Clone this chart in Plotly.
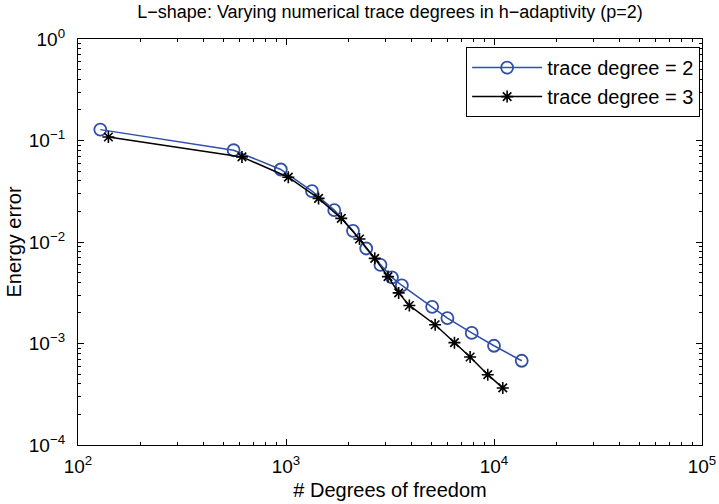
import plotly.graph_objects as go

# Data
dof_deg2 = [128, 560, 944, 1334, 1706, 2099, 2430, 2846, 3230, 3606, 5042, 5970, 7816, 10000, 13590]
err_deg2 = [0.128, 0.0802, 0.0518, 0.0317, 0.0206, 0.0129, 0.00863, 0.00594, 0.00448, 0.00373,
            0.0023, 0.00178, 0.00127, 0.00095, 0.000676]

dof_deg3 = [140, 614, 1026, 1434, 1844, 2256, 2671, 3093, 3481, 3918, 5212, 6454, 7677, 9333, 11020]
err_deg3 = [0.1083, 0.0689, 0.0435, 0.0269, 0.0171, 0.0107, 0.0069, 0.00456, 0.00315, 0.00237,
            0.00153, 0.00102, 0.000736, 0.000493, 0.000365]

x_tickvals = [1e2, 1e3, 1e4, 1e5]
x_ticktext = ["10<sup>2</sup>", "10<sup>3</sup>", "10<sup>4</sup>", "10<sup>5</sup>"]
y_tickvals = [1e-4, 1e-3, 1e-2, 1e-1, 1e0]
y_ticktext = ["10<sup>−4</sup>", "10<sup>−3</sup>", "10<sup>−2</sup>", "10<sup>−1</sup>", "10<sup>0</sup>"]

x_minor = [m * 10 ** e for e in range(2, 5) for m in range(2, 10)]
y_minor = [m * 10 ** e for e in range(-4, 0) for m in range(2, 10)]

FONT = "Liberation Sans, Arial, sans-serif"
BLUE = "#2f4fa8"

fig = go.Figure()
fig.add_trace(go.Scatter(
    x=dof_deg2, y=err_deg2, mode="lines+markers", name="trace degree = 2",
    line=dict(color=BLUE, width=1.5),
    marker=dict(symbol="circle-open", size=12, color=BLUE, line=dict(width=1.8, color=BLUE)),
))
fig.add_trace(go.Scatter(
    x=dof_deg3, y=err_deg3, mode="lines+markers", name="trace degree = 3",
    line=dict(color="black", width=1.5),
    marker=dict(symbol="asterisk-open", size=10, color="black", line=dict(width=1.6, color="black")),
))

axis_common = dict(
    type="log", showgrid=False, zeroline=False, automargin=False,
    showline=True, linecolor="black", linewidth=1.2, mirror="ticks",
    ticks="inside", ticklen=6, tickwidth=1, tickcolor="black",
    tickfont=dict(family=FONT, size=19, color="black"),
)

fig.update_layout(
    width=719, height=504,
    margin=dict(l=77.5, r=17, t=38.5, b=58.5),
    paper_bgcolor="white", plot_bgcolor="white",
    font=dict(family=FONT, color="black"),
    title=dict(text="L−shape: Varying numerical trace degrees in h−adaptivity (p=2)",
               x=0.5425, xanchor="center", y=0.976, yanchor="middle",
               font=dict(family=FONT, size=18, color="black")),
    xaxis=dict(**axis_common, range=[2, 5], tickmode="array", tickvals=x_tickvals, ticktext=x_ticktext,
               minor=dict(tickmode="array", tickvals=x_minor, ticks="inside", ticklen=3,
                          tickcolor="black", showgrid=False),
               ticklabelstandoff=4,
               title=dict(text="# Degrees of freedom", font=dict(family=FONT, size=20, color="black"),
                          standoff=7)),
    yaxis=dict(**axis_common, range=[-4, 0], tickmode="array", tickvals=y_tickvals, ticktext=y_ticktext,
               minor=dict(tickmode="array", tickvals=y_minor, ticks="inside", ticklen=3,
                          tickcolor="black", showgrid=False),
               ticklabelstandoff=8,
               title=dict(text="Energy error", font=dict(family=FONT, size=20, color="black"),
                          standoff=1)),
    legend=dict(x=0.997, xanchor="right", y=0.98, yanchor="top",
                bgcolor="white", bordercolor="black", borderwidth=1,
                font=dict(family=FONT, size=20, color="black"),
                tracegroupgap=0, itemwidth=70),
    showlegend=True,
)

fig.write_html("out.html", config={"displayModeBar": False},
               post_script="document.body.style.margin='0px';document.body.style.overflow='hidden';")
